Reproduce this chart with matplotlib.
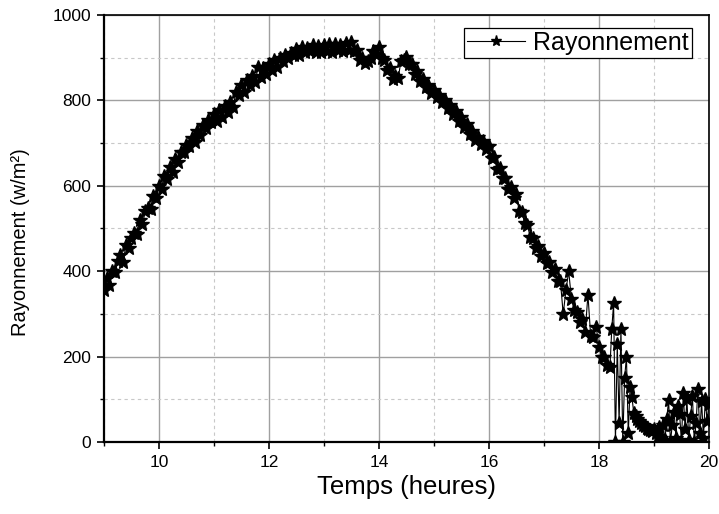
import numpy as np
import matplotlib
matplotlib.use("Agg")
import matplotlib.pyplot as plt
from matplotlib.ticker import MultipleLocator

plt.rcParams['font.family'] = ['Liberation Sans', 'DejaVu Sans']

# Segment A: 9:00 -> 18:09, 3-minute steps (one row per hour)
values_a = [
    355, 385, 368, 400, 398, 425, 438, 422, 462, 455, 478, 490, 488, 520, 510, 540, 548, 545, 575, 572,
    600, 592, 622, 615, 645, 632, 662, 655, 678, 680, 695, 692, 712, 702, 728, 718, 742, 735, 755, 750,
    768, 752, 778, 762, 786, 772, 795, 785, 820, 812, 835, 820, 848, 836, 858, 842, 878, 855, 876, 862,
    886, 870, 894, 878, 900, 892, 906, 898, 910, 905, 920, 905, 925, 912, 922, 915, 930, 914, 928, 912,
    930, 915, 932, 914, 932, 918, 930, 915, 934, 918, 936, 915, 918, 895, 898, 888, 892, 898, 915, 908,
    925, 898, 895, 872, 875, 850, 858, 852, 892, 895, 902, 885, 885, 862, 868, 845, 850, 832, 836, 818,
    825, 808, 812, 795, 800, 782, 788, 768, 776, 752, 762, 738, 745, 722, 728, 708, 715, 698, 705, 685,
    692, 665, 668, 640, 642, 618, 618, 592, 598, 572, 580, 540, 538, 512, 508, 480, 478, 455, 458, 435,
    442, 418, 422, 398, 404, 378, 376, 300, 355, 400, 335, 308, 305, 282, 288, 258, 345, 248, 245, 270,
    222, 200, 200, 180]
hours_a = [9 + i * 3 / 60 for i in range(len(values_a))]

# Segment B: 18:12 -> 20:00, 2-minute steps
values_b = [175, 265, 325, 0, 230, 45, 265, 0, 150, 200, 20, 130,
            105, 68, 62, 55, 50, 45, 40, 38, 34, 30, 28, 25,
            30, 20, 15, 35, 10, 40, 5, 55, 98, 0, 40, 70,
            10, 85, 65, 0, 115, 30, 100, 5, 60, 108, 0, 45,
            125, 20, 95, 10, 100, 50, 90]
hours_b = [18.2 + i * 2 / 60 for i in range(len(values_b))]

hours = hours_a + hours_b
values = values_a + values_b

fig = plt.figure(figsize=(7.19, 5.14), dpi=100)
ax = fig.add_axes([0.1446, 0.140, 0.8414, 0.831])

ax.plot(hours, values, color='black', lw=0.8, marker='*', markersize=10,
        markerfacecolor='black', markeredgecolor='black', label='Rayonnement',
        zorder=3)

ax.set_xlim(9, 20)
ax.set_ylim(0, 1000)
ax.xaxis.set_major_locator(MultipleLocator(2))
ax.xaxis.set_minor_locator(MultipleLocator(1))
ax.yaxis.set_major_locator(MultipleLocator(200))
ax.yaxis.set_minor_locator(MultipleLocator(100))

ax.grid(which='major', color='#a0a0a0', lw=1.0, ls='-', zorder=0)
ax.grid(which='minor', color='#c8c8c8', lw=0.8, ls=(0, (3, 3)), zorder=0)

for s in ['left', 'bottom']:
    ax.spines[s].set_linewidth(1.6)
for s in ['top', 'right']:
    ax.spines[s].set_linewidth(1.2)

ax.tick_params(which='major', direction='out', length=5, width=1.2,
               labelsize=12.5, top=False, right=False, pad=4)
ax.tick_params(which='minor', direction='out', length=3, width=1.0,
               top=False, right=False)

ax.set_xlabel('Temps (heures)', fontsize=18.5, labelpad=4)
ax.set_ylabel('Rayonnement (w/m²)', fontsize=14.5)
ax.yaxis.set_label_coords(-0.122, 0.468)

leg = ax.legend(loc='upper right', fontsize=18, frameon=True, fancybox=False,
                edgecolor='black', framealpha=1, handlelength=2.3,
                borderpad=0.12, handletextpad=0.35, borderaxespad=0,
                bbox_to_anchor=(0.972, 0.970), markerscale=0.8)
leg.get_frame().set_linewidth(0.9)

fig.savefig('out.png', dpi=100)
